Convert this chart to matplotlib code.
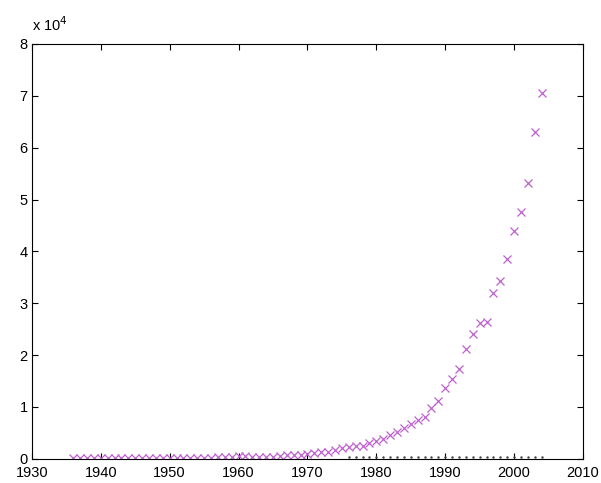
import numpy as np
import matplotlib.pyplot as plt
from matplotlib.ticker import FuncFormatter

plt.rcParams['font.family'] = ['Liberation Sans', 'DejaVu Sans']
plt.rcParams['font.size'] = 10.5

# DADOS

anos = list(range(1936, 2005))

valores = [
    100, 100, 120, 100, 150, 120, 130, 150, 120, 130,
    150, 150, 180, 200, 200, 180, 200, 220, 200, 250,
    250, 280, 300, 300, 500, 600, 400, 300, 300, 400,
    600, 700, 800, 800, 1000, 1200, 1400, 1300, 1700, 2000,
    2300, 2400, 2500, 3000, 3500, 3900, 4600, 5200, 5900, 6700,
    7500, 8100, 9900, 11200, 13600, 15400, 17300, 21200, 24000, 26100,
    26300, 32000, 34300, 38500, 43900, 47600, 53100, 63100, 70600
]

# serie de pontos pequenos junto ao eixo
anos_pontos = list(range(1976, 2005))
valores_pontos = [300] * len(anos_pontos)

fig = plt.figure(figsize=(6.01, 4.83), dpi=100)
ax = fig.add_axes([0.053, 0.050, 0.917, 0.859])

ax.plot(anos_pontos, valores_pontos, '.', color='#444444', markersize=1.5)
ax.plot(anos, valores, 'x', color='#c060d0', markersize=6, markeredgewidth=0.9)

ax.set_xlim(1930, 2010)
ax.set_ylim(0, 80000)
ax.set_xticks(range(1930, 2011, 10))
ax.set_yticks(range(0, 80001, 10000))
ax.yaxis.set_major_formatter(FuncFormatter(lambda v, p: f'{v / 1e4:g}'))

ax.tick_params(direction='in', top=True, right=True, length=4, width=0.8,
               labelsize=10.5)
ax.tick_params(axis='x', pad=5)
ax.tick_params(axis='y', pad=3)
for s in ax.spines.values():
    s.set_linewidth(0.8)

ax.text(0.0, 1.025, r'x 10$^4$', transform=ax.transAxes, fontsize=10.5,
        ha='left', va='bottom')

fig.savefig('out.png', dpi=100)
